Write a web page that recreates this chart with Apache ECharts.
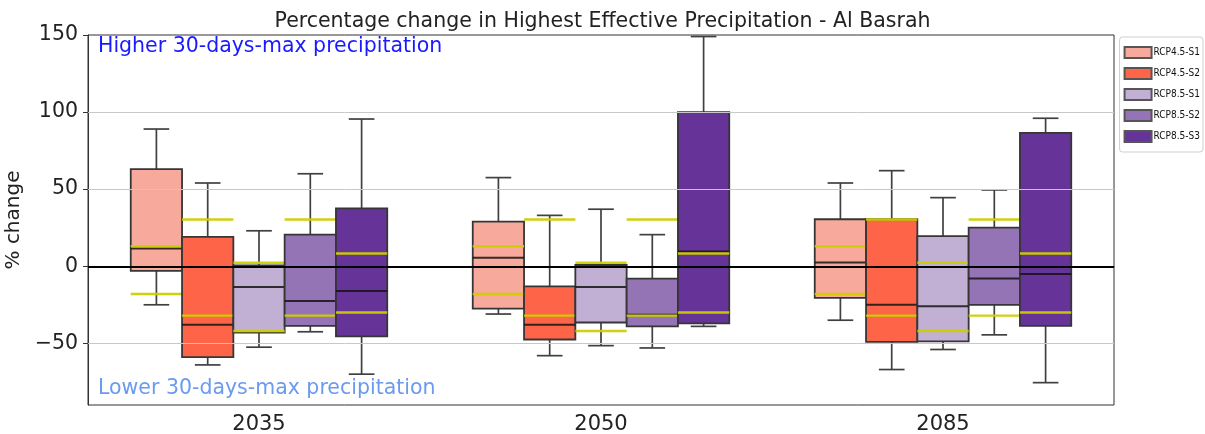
<!DOCTYPE html>
<html>
<head>
<meta charset="utf-8">
<script src="https://cdn.jsdelivr.net/npm/echarts@6/dist/echarts.min.js"></script>
<style>html,body{margin:0;padding:0;background:#fff}#c{width:1205px;height:434px}</style>
</head>
<body>
<div id="c"></div>
<script>
const years = ['2035', '2050', '2085'];
const scenarios = ['RCP4.5-S1', 'RCP4.5-S2', 'RCP8.5-S1', 'RCP8.5-S2', 'RCP8.5-S3'];
const colors = ['#f7a99b', '#fe6448', '#c2b0d4', '#9474b5', '#663398'];
const yTicks = [-50, 0, 50, 100, 150];
// per scenario, per year: [whiskerLow, q1, median, q3, whiskerHigh]
const rcp45s1 = [[-25, -3, 11.5, 63, 89], [-31, -27.5, 5.5, 29, 57.5], [-35, -20.5, 2.5, 30.5, 54]];
const rcp45s2 = [[-64, -59, -38, 19, 54], [-58, -47.5, -38, -13, 33], [-67, -49, -25, 30.5, 62]];
const rcp85s1 = [[-52.5, -43, -13.5, 0.5, 23], [-51.5, -36.5, -13.5, 0.8, 37], [-54, -48.7, -26, 19.5, 44.5]];
const rcp85s2 = [[-42.5, -38.7, -22.5, 20.5, 60], [-53, -39, -31.5, -8, 20.5], [-44.5, -25, -8, 25, 49.5]];
const rcp85s3 = [[-70, -45.5, -16, 37.5, 95.5], [-39, -37, 9.5, 100, 149], [-75.5, -38.7, -5, 86.5, 96]];
// reference (yellow) lines per scenario: [low, high]
const refLines = [[-18, 13], [-32, 30.3], [-42, 2.3], [-32, 30.3], [-30, 8.3]];
const allStats = [rcp45s1, rcp45s2, rcp85s1, rcp85s2, rcp85s3];

const chart = echarts.init(document.getElementById('c'), null, {renderer: 'canvas'});

function makeRender(si) {
  return function (params, api) {
    const cat = api.value(0);
    const band = api.size([1, 0])[0];
    const bw = band * 0.75 / 5;
    const cx = api.coord([cat, 0])[0] + (si - 2) * bw;
    const y = v => api.coord([cat, v])[1];
    const wl = y(api.value(1)), q1 = y(api.value(2)), md = y(api.value(3)), q3 = y(api.value(4)), wh = y(api.value(5));
    const rl = y(api.value(6)), rh = y(api.value(7));
    const x0 = cx - bw / 2, x1 = cx + bw / 2;
    const cap = bw / 4;
    const wStyle = {stroke: '#404040', lineWidth: 1.7};
    const yl = {stroke: 'rgba(205,205,0,0.95)', lineWidth: 2.4};
    return {
      type: 'group',
      children: [
        {type: 'line', shape: {x1: cx, y1: q3, x2: cx, y2: wh}, style: wStyle},
        {type: 'line', shape: {x1: cx, y1: q1, x2: cx, y2: wl}, style: wStyle},
        {type: 'line', shape: {x1: cx - cap, y1: wh, x2: cx + cap, y2: wh}, style: wStyle},
        {type: 'line', shape: {x1: cx - cap, y1: wl, x2: cx + cap, y2: wl}, style: wStyle},
        {type: 'rect', shape: {x: x0, y: q3, width: bw, height: q1 - q3}, style: {fill: colors[si], stroke: '#363636', lineWidth: 1.8}},
        {type: 'line', shape: {x1: x0, y1: md, x2: x1, y2: md}, style: {stroke: 'rgba(20,20,20,0.85)', lineWidth: 2}},
        {type: 'line', shape: {x1: x0, y1: rl, x2: x1, y2: rl}, style: yl},
        {type: 'line', shape: {x1: x0, y1: rh, x2: x1, y2: rh}, style: yl}
      ]
    };
  };
}

const series = scenarios.map((name, si) => ({
  name: name,
  type: 'custom',
  renderItem: makeRender(si),
  itemStyle: {color: colors[si], borderColor: '#555', borderWidth: 1},
  encode: {x: 0, y: [1, 2, 3, 4, 5]},
  z: 3,
  data: allStats[si].map((s, i) => [i, s[0], s[1], s[2], s[3], s[4], refLines[si][0], refLines[si][1]])
}));

series.push({
  name: 'grid',
  type: 'line',
  data: [],
  z: 1,
  silent: true,
  markLine: {
    symbol: 'none', silent: true, label: {show: false},
    lineStyle: {color: '#c8c8c8', width: 1, type: 'solid'},
    data: yTicks.filter(v => v !== 0 && v !== 150).map(v => ({yAxis: v}))
  }
});
series.push({
  name: 'zero',
  type: 'line',
  data: [],
  z: 10,
  silent: true,
  markLine: {
    symbol: 'none', silent: true, label: {show: false},
    lineStyle: {color: '#000', width: 2.2, type: 'solid'},
    data: [{yAxis: 0}]
  }
});

chart.setOption({
  animation: false,
  backgroundColor: '#fff',
  textStyle: {fontFamily: 'DejaVu Sans'},
  title: {
    text: 'Percentage change in Highest Effective Precipitation - Al Basrah',
    left: 'center', top: 6,
    textStyle: {fontFamily: 'DejaVu Sans', fontSize: 20.5, fontWeight: 'normal', color: '#222'}
  },
  legend: {
    data: scenarios,
    orient: 'vertical',
    right: 2, top: 37,
    itemWidth: 27, itemHeight: 11, itemGap: 8,
    icon: 'rect',
    padding: [9, 3, 9, 4],
    borderColor: '#cfcfcf', borderWidth: 1, borderRadius: 3,
    textStyle: {fontFamily: 'DejaVu Sans Condensed', fontSize: 10, lineHeight: 13, color: '#111', padding: [0, 0, 0, -3]}
  },
  grid: {left: 88, right: 91, top: 35, bottom: 29, show: true, borderColor: '#333', borderWidth: 1, backgroundColor: 'transparent', outerBoundsMode: 'none', containLabel: false},
  graphic: [
    {type: 'text', left: 98, top: 36, style: {text: 'Higher 30-days-max precipitation', fill: '#1a1aff', font: '20.5px "DejaVu Sans"'}},
    {type: 'text', left: 98, top: 378, style: {text: 'Lower 30-days-max precipitation', fill: '#6b9af0', font: '20.5px "DejaVu Sans"'}}
  ],
  xAxis: {
    type: 'category',
    data: years,
    axisLine: {lineStyle: {color: '#333'}},
    axisTick: {alignWithLabel: true, length: 5, lineStyle: {color: '#333'}},
    axisLabel: {fontSize: 21, color: '#222', margin: 9, fontFamily: 'DejaVu Sans'},
    splitLine: {show: false}
  },
  yAxis: {
    type: 'value',
    min: -90, max: 150,
    name: '% change',
    nameLocation: 'middle',
    nameGap: 58,
    nameRotate: 90,
    nameTextStyle: {fontSize: 20, color: '#222', fontFamily: 'DejaVu Sans'},
    axisLine: {show: true, lineStyle: {color: '#333'}},
    axisTick: {show: true, length: 5, customValues: yTicks, lineStyle: {color: '#333'}},
    axisLabel: {fontSize: 20.5, color: '#222', margin: 10, customValues: yTicks, formatter: v => (v < 0 ? '\u2212' + Math.abs(v) : String(v)), fontFamily: 'DejaVu Sans'},
    splitLine: {show: false}
  },
  series: series
});
</script>
</body>
</html>
